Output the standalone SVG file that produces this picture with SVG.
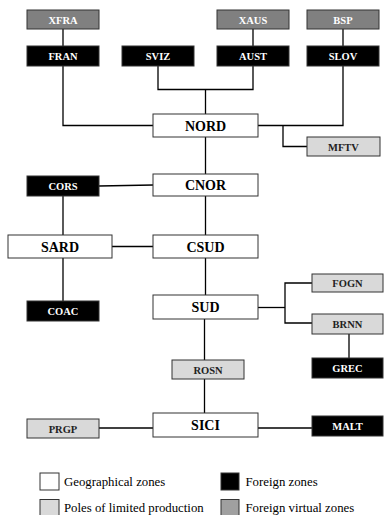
<svg xmlns="http://www.w3.org/2000/svg" width="384" height="515" viewBox="0 0 384 515">
<style>
rect{stroke:#333;stroke-width:1}
.g{fill:#fff}
.f{fill:#000}
.v{fill:#808080}
.p{fill:#d9d9d9}
text{font-family:"Liberation Serif","Times New Roman",serif;font-weight:bold;text-anchor:middle}
.big{font-size:14px;fill:#000}
.sm{font-size:10.5px}
.w{fill:#fff}
.k{fill:#222}
.lg{font-weight:normal;text-anchor:start;font-size:12.8px;fill:#000}
#connectors path{fill:none;stroke:#000;stroke-width:1.3}
</style>
<rect width="384" height="515" fill="#fff" style="stroke:none"/>
<g id="connectors">
<path d="M63 29V46"/>
<path d="M253 29V46"/>
<path d="M343 29V46"/>
<path d="M63 66V125.5H153"/>
<path d="M158 66V89.5H253V66"/>
<path d="M205.5 89.5V114"/>
<path d="M343 66V125.5H258"/>
<path d="M283 125.5V146.5H307"/>
<path d="M205.5 137V174"/>
<path d="M99 186L153 185"/>
<path d="M63 196V235"/>
<path d="M205.5 196V235"/>
<path d="M112 246.5H153"/>
<path d="M63 258V301"/>
<path d="M205.5 258V295"/>
<path d="M258 307.5H285"/>
<path d="M312 283H285V323H312"/>
<path d="M349 334V358"/>
<path d="M204.5 319V360"/>
<path d="M204.5 379V413"/>
<path d="M99 428H153"/>
<path d="M258 428H312"/>
</g>
<g id="XFRA"><rect class="v" x="27" y="10" width="72" height="19"/><text class="sm w" x="63" y="23.5">XFRA</text></g>
<g id="XAUS"><rect class="v" x="217" y="10" width="72" height="19"/><text class="sm w" x="253" y="23.5">XAUS</text></g>
<g id="BSP"><rect class="v" x="307" y="10" width="72" height="19"/><text class="sm w" x="343" y="23.5">BSP</text></g>
<g id="FRAN"><rect class="f" x="27" y="46" width="72" height="20"/><text class="sm w" x="63" y="60">FRAN</text></g>
<g id="SVIZ"><rect class="f" x="122" y="46" width="72" height="20"/><text class="sm w" x="158" y="60">SVIZ</text></g>
<g id="AUST"><rect class="f" x="217" y="46" width="72" height="20"/><text class="sm w" x="253" y="60">AUST</text></g>
<g id="SLOV"><rect class="f" x="307" y="46" width="72" height="20"/><text class="sm w" x="343" y="60">SLOV</text></g>
<g id="NORD"><rect class="g" x="153" y="114" width="105" height="23"/><text class="big" x="205.5" y="130.5">NORD</text></g>
<g id="MFTV"><rect class="p" x="307" y="137" width="73" height="19"/><text class="sm k" x="343.5" y="150.5">MFTV</text></g>
<g id="CORS"><rect class="f" x="27" y="176" width="72" height="20"/><text class="sm w" x="63" y="190">CORS</text></g>
<g id="CNOR"><rect class="g" x="153" y="174" width="105" height="22"/><text class="big" x="205.5" y="190">CNOR</text></g>
<g id="SARD"><rect class="g" x="8" y="235" width="104" height="23"/><text class="big" x="60" y="251.5">SARD</text></g>
<g id="CSUD"><rect class="g" x="153" y="235" width="105" height="23"/><text class="big" x="205.5" y="251.5">CSUD</text></g>
<g id="COAC"><rect class="f" x="27" y="301" width="72" height="20"/><text class="sm w" x="63" y="315">COAC</text></g>
<g id="SUD"><rect class="g" x="153" y="295" width="105" height="24"/><text class="big" x="205.5" y="312">SUD</text></g>
<g id="FOGN"><rect class="p" x="312" y="274" width="71" height="18"/><text class="sm k" x="347.5" y="287">FOGN</text></g>
<g id="BRNN"><rect class="p" x="312" y="314" width="71" height="20"/><text class="sm k" x="347.5" y="327.5">BRNN</text></g>
<g id="GREC"><rect class="f" x="312" y="358" width="71" height="20"/><text class="sm w" x="347.5" y="372">GREC</text></g>
<g id="ROSN"><rect class="p" x="172" y="360" width="72" height="19"/><text class="sm k" x="208" y="373.5">ROSN</text></g>
<g id="SICI"><rect class="g" x="153" y="413" width="105" height="24"/><text class="big" x="205.5" y="429.5">SICI</text></g>
<g id="PRGP"><rect class="p" x="27" y="419" width="72" height="19"/><text class="sm k" x="63" y="432.5">PRGP</text></g>
<g id="MALT"><rect class="f" x="312" y="416" width="71" height="20"/><text class="sm w" x="347.5" y="430">MALT</text></g>
<g id="legend">
<rect class="g" x="40" y="473" width="19" height="17"/><text class="lg" x="64" y="485.5">Geographical zones</text>
<rect class="f" x="221" y="473" width="18" height="17"/><text class="lg" x="245.5" y="485.5">Foreign zones</text>
<rect class="p" x="40" y="499.5" width="19" height="17"/><text class="lg" x="64" y="512">Poles of limited production</text>
<rect class="v" x="221" y="499.5" width="18" height="17" style="fill:#a0a0a0"/><text class="lg" x="245.5" y="512">Foreign virtual zones</text>
</g>
</svg>
